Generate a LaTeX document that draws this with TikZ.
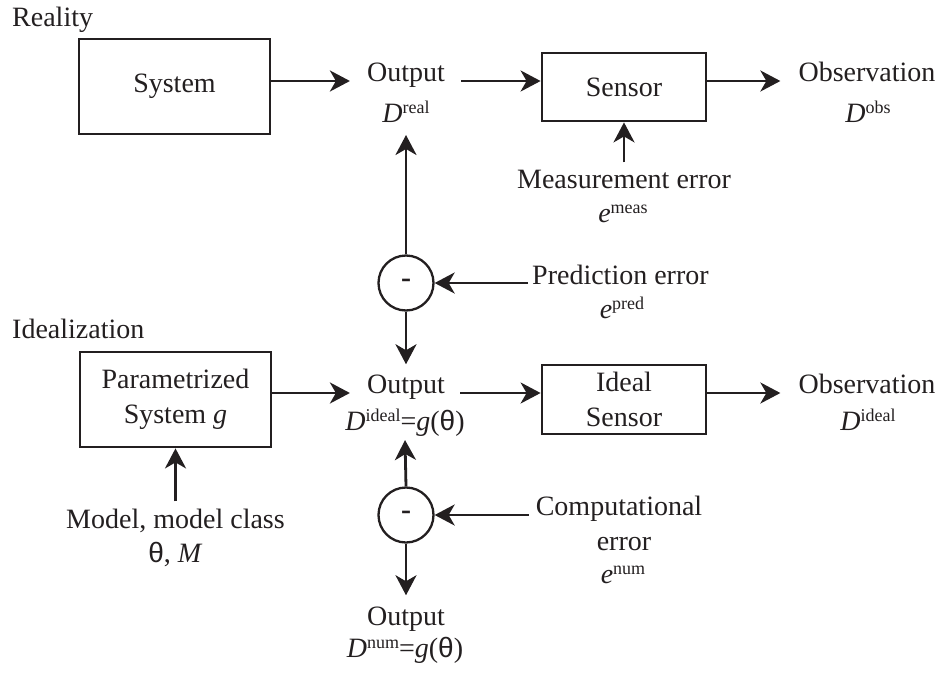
\documentclass[tikz,border=0pt]{standalone}
\usepackage{fontspec}
\setmainfont{Liberation Serif}
\newfontfamily\thetafont{Liberation Sans}
\usetikzlibrary{arrows.meta,calc}
\newcommand\supx[1]{\raisebox{9pt}{\fontsize{18}{18}\selectfont #1}}
\newcommand\thet{{\thetafont θ}}
\definecolor{ink}{HTML}{231F20}
\begin{document}
\begin{tikzpicture}[x=1pt,y=-1pt, color=ink,
  txt/.style={inner sep=0pt, anchor=base, font=\fontsize{28}{34}\selectfont},
  blk/.style={draw, line width=2.8pt, inner sep=0pt, align=center, font=\fontsize{28}{35}\selectfont},
  arr/.style={line width=2.8pt, -{Stealth[length=20pt,width=21pt,inset=6pt]}},
  sumc/.style={draw, circle, line width=2.3pt, minimum size=55pt, inner sep=0pt, font=\fontsize{30}{30}\selectfont\bfseries}]
\useasboundingbox (0,0) rectangle (943,675);

% boxes
\node[blk, minimum width=191pt, minimum height=95pt] (sys) at (174.5,86.5) {System};
\node[blk, minimum width=164pt, minimum height=68pt] (sens) at (624,87) {Sensor};
\node[blk, minimum width=191pt, minimum height=95pt] (param) at (175.5,399.5) {Parametrized\\System \textit{g}};
\node[blk, minimum width=164pt, minimum height=69pt] (isens) at (624,399.5) {Ideal\\Sensor};

% sum circles
\node[sumc] (c1) at (406,283) {-};
\node[sumc] (c2) at (406,515) {-};

% labels
\node[txt, anchor=base west] (real) at (12,26) {Reality};
\node[txt, anchor=base west] (ideal) at (12,338) {Idealization};

\node[txt] (out1) at (406,81) {Output};
\node[txt] (d1) at (406,122) {\textit{D}\supx{real}};
\node[txt] (obs1) at (867,81) {Observation};
\node[txt] (dobs) at (868,122) {\textit{D}\supx{obs}};
\node[txt] (meas) at (624,188) {Measurement error};
\node[txt] (emeas) at (623,222) {\textit{e}\supx{meas}};
\node[txt, anchor=base west] (pred) at (532,284) {Prediction error};
\node[txt] (epred) at (622,318) {\textit{e}\supx{pred}};

\node[txt] (out2) at (406,393) {Output};
\node[txt] (d2) at (405,430) {\textit{D}\supx{ideal}=\textit{g}(\thet)};
\node[txt] (obs2) at (867,393) {Observation};
\node[txt] (dideal) at (868,430) {\textit{D}\supx{ideal}};
\node[txt] (model) at (175.5,528) {Model, model class};
\node[txt] (thm) at (175.5,562) {\thet, \textit{M}};
\node[txt] (comp) at (619,515) {Computational};
\node[txt] (err) at (624,550) {error};
\node[txt] (enum) at (623,583) {\textit{e}\supx{num}};
\node[txt] (out3) at (406,625) {Output};
\node[txt] (d4) at (405,657) {\textit{D}\supx{num}=\textit{g}(\thet)};

% connectors top row
\draw[arr] (sys.east |- out1.base) -- ($(out1.base west)+(-17,0)$);
\draw[arr] ($(out1.base east)+(16,0)$) -- (sens.west |- out1.base);
\draw[arr] (sens.east |- obs1.base) -- ($(obs1.base west)+(-18,0)$);
\draw[arr] ($(meas.north)+(0,-7)$) -- (sens.south);

% prediction error
\draw[arr] (c1.north) -- ($(d1.base)+(0,13)$);
\draw[arr] (c1.south) -- ($(out2.north)+(0,-10)$);
\draw[arr] ($(c1.east -| pred.west)+(-4,0)$) -- (c1.east);

% ideal row
\draw[arr] (param.east |- out2.base) -- ($(out2.base west)+(-17,0)$);
\draw[arr] ($(out2.base east)+(15,0)$) -- (isens.west |- out2.base);
\draw[arr] (isens.east |- obs2.base) -- ($(obs2.base west)+(-18,0)$);
\draw[arr] ($(model.north)+(0,-7)$) -- (param.south);

% computational error
\draw[arr] (c2.north) -- ($(d2.base)+(0,10)$);
\draw[arr] (c2.south) -- ($(out3.north)+(0,-11)$);
\draw[arr] ($(c2.east -| comp.west)+(-7,0)$) -- (c2.east);
\end{tikzpicture}
\end{document}
